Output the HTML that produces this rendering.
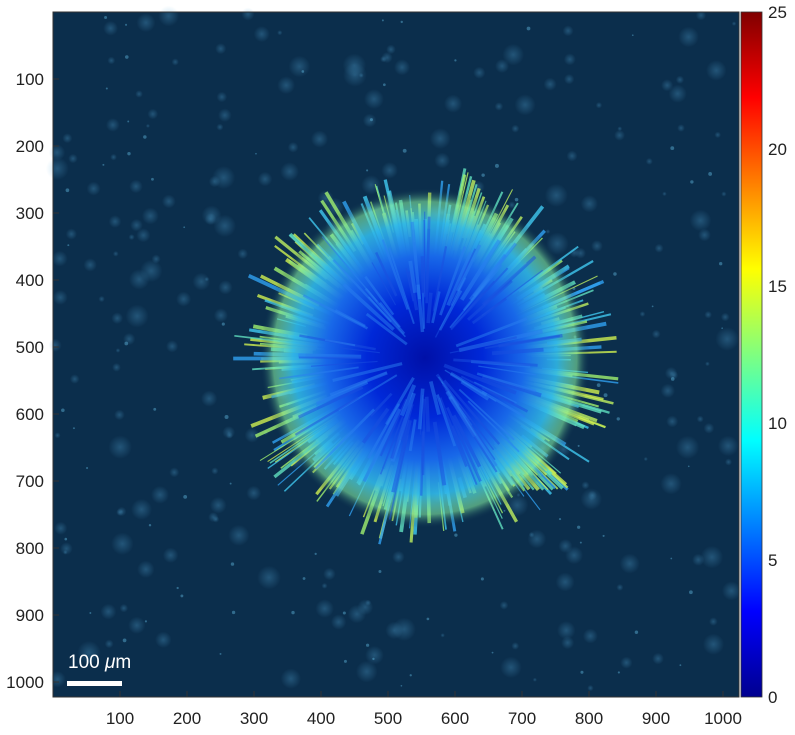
<!DOCTYPE html>
<html><head><meta charset="utf-8"><style>
body{margin:0;background:#fff;font-family:"Liberation Sans",sans-serif}
svg text{font-family:"Liberation Sans",sans-serif;font-size:17px;fill:#222}
</style></head><body>
<svg id="chart" width="795" height="730">
<defs>
<linearGradient id="jet" x1="0" y1="1" x2="0" y2="0">
<stop offset="0" stop-color="#00008f"/><stop offset="0.125" stop-color="#0000ff"/><stop offset="0.375" stop-color="#00ffff"/><stop offset="0.625" stop-color="#ffff00"/><stop offset="0.875" stop-color="#ff0000"/><stop offset="1" stop-color="#800000"/>
</linearGradient>
<radialGradient id="blob" cx="0.5" cy="0.5" r="0.5">
<stop offset="0" stop-color="#0010a8"/><stop offset="0.35" stop-color="#0028d8"/><stop offset="0.6" stop-color="#1868e8"/><stop offset="0.8" stop-color="#30b8e8" stop-opacity="0.9"/><stop offset="0.92" stop-color="#80e8a0" stop-opacity="0.6"/><stop offset="1" stop-color="#0b2f4f" stop-opacity="0"/>
</radialGradient>
<radialGradient id="glow" cx="0.5" cy="0.5" r="0.5">
<stop offset="0" stop-color="#5ab0e0" stop-opacity="0.3"/><stop offset="1" stop-color="#5ab0e0" stop-opacity="0"/>
</radialGradient>
</defs>
<rect x="53" y="12" width="686" height="685" fill="#0b2e4c"/>
<g id="spots"></g>
<g id="strands"></g>
<ellipse cx="425" cy="358" rx="165" ry="170" fill="url(#blob)"/>
<g id="inner"></g>
<rect x="53" y="12" width="686" height="685" fill="none" stroke="#333" stroke-width="1"/>
<g id="axes"></g>
<rect x="741" y="12" width="21" height="685" fill="url(#jet)" stroke="#333" stroke-width="0.8"/>
<g id="cbticks"></g>
<rect x="67" y="681" width="55" height="5" fill="#fff"/>
<text x="68" y="668" style="fill:#fff;font-size:19px">100 <tspan font-style="italic">μ</tspan>m</text>
</svg>
<script>
const xTicks=[100,200,300,400,500,600,700,800,900,1000];
const yTicks=[100,200,300,400,500,600,700,800,900,1000];
const cbTicks=[0,5,10,15,20,25];
const ns="http://www.w3.org/2000/svg";
const X=v=>53+v*0.67, Y=v=>12+v*0.67, C=v=>697-v/25*685;
const ax=document.getElementById('axes'), cb=document.getElementById('cbticks');
function mk(tag,a,p){const e=document.createElementNS(ns,tag);for(const k in a)e.setAttribute(k,a[k]);p.appendChild(e);return e;}
xTicks.forEach(v=>{
 const l=mk('line',{x1:X(v),x2:X(v),y1:697,y2:691,stroke:'#333'},ax);
 
 
 const t=mk('text',{x:X(v),y:724,'text-anchor':'middle'},ax);t.textContent=v;
 
 
});
yTicks.forEach(v=>{
 const l=mk('line',{x1:53,x2:59,y1:Y(v),y2:Y(v),stroke:'#333'},ax);
 
 
 const t=mk('text',{x:44,y:Y(v)+6,'text-anchor':'end'},ax);t.textContent=v;
 
 
});
cbTicks.forEach(v=>{
 const t=mk('text',{x:768,y:C(v)+6},cb);t.textContent=v;
 
 
});
// background texture (decorative)
const sp=document.getElementById('spots');let s=7;
const rnd=()=>{s=(s*9301+49297)%233280;return s/233280;};
for(let i=0;i<260;i++){const cx=55+rnd()*680,cy=14+rnd()*680,r=2+rnd()*10;
 mk('circle',{cx:cx,cy:cy,r:r,fill:'url(#glow)'},sp);}
for(let i=0;i<90;i++){mk('circle',{cx:55+rnd()*680,cy:14+rnd()*680,r:0.8+rnd()*1.2,fill:'#6cc8f0',opacity:0.4},sp);}
const st=document.getElementById('strands');
const cols=['#60e0c0','#a0f070','#40c8f0','#c0f060','#30a0f0','#d0f050'];
for(let i=0;i<320;i++){const a=rnd()*Math.PI*2,r1=80+rnd()*50,r2=135+rnd()*60;
 mk('line',{x1:425+Math.cos(a)*r1,y1:358+Math.sin(a)*r1,x2:425+Math.cos(a)*r2,y2:358+Math.sin(a)*r2,stroke:cols[i%6],'stroke-width':1+rnd()*3,opacity:0.8},st);}
const inn=document.getElementById('inner');
for(let i=0;i<120;i++){const a=rnd()*Math.PI*2,r1=20+rnd()*60,r2=r1+30+rnd()*60;
 mk('line',{x1:425+Math.cos(a)*r1,y1:358+Math.sin(a)*r1,x2:425+Math.cos(a)*r2,y2:358+Math.sin(a)*r2,stroke:i%2?'#1a50e0':'#2a80f0','stroke-width':1+rnd()*3,opacity:0.5},inn);}
</script>
</body></html>
